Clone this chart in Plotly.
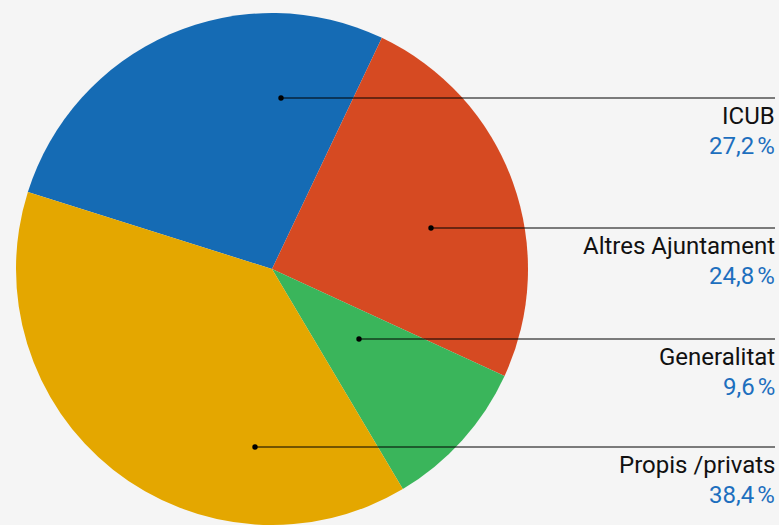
import plotly.graph_objects as go

# data
labels = ["ICUB", "Altres Ajuntament", "Generalitat", "Propis /privats"]
values = [27.2, 24.8, 9.6, 38.4]
pct_text = ["27,2\u202f%", "24,8\u202f%", "9,6\u202f%", "38,4\u202f%"]
colors = ["#156bb4", "#d64a22", "#3ab55b", "#e4a700"]

W, H = 779, 525
BG = "#f5f5f5"
BLUE = "#1d6fbe"
FONT = "Roboto"

# pixel -> paper
def px(x):
    return x / W

def py(y):
    return (H - y) / H

fig = go.Figure(go.Pie(
    labels=labels,
    values=values,
    marker=dict(colors=colors, line=dict(width=0)),
    sort=False,
    direction="clockwise",
    rotation=-72.5,
    textinfo="none",
    hoverinfo="label+percent",
    showlegend=False,
    domain=dict(x=[0, 544 / W], y=[0, 512 / H]),
))

# leader dots / lines (pixel positions in the layout)
dots = [(281, 98), (431, 228), (359, 339), (255, 447)]
x_end = 775
shapes = []
annotations = []
for (dx, dy), lab, pct in zip(dots, labels, pct_text):
    shapes.append(dict(type="line", xref="paper", yref="paper",
                       x0=px(dx), x1=px(x_end), y0=py(dy), y1=py(dy),
                       line=dict(color="black", width=1)))
    shapes.append(dict(type="circle", xref="paper", yref="paper",
                       x0=px(dx - 2.7), x1=px(dx + 2.7),
                       y0=py(dy - 2.7), y1=py(dy + 2.7),
                       fillcolor="black", line=dict(width=0)))
    annotations.append(dict(text=lab, xref="paper", yref="paper",
                            x=px(x_end + 2), y=py(dy + 18), xanchor="right", yanchor="middle",
                            showarrow=False, font=dict(family=FONT, size=24, color="#111111")))
    annotations.append(dict(text=pct, xref="paper", yref="paper",
                            x=px(x_end + 2), y=py(dy + 48), xanchor="right", yanchor="middle",
                            showarrow=False, font=dict(family=FONT, size=24, color=BLUE)))

fig.update_layout(
    width=W, height=H,
    margin=dict(l=0, r=0, t=0, b=0),
    paper_bgcolor=BG, plot_bgcolor=BG,
    shapes=shapes,
    annotations=annotations,
)

# drop the default 8px body margin so the figure fills the window
fig.write_html("out.html", config={"displayModeBar": False},
               post_script="document.body.style.margin='0px';")
